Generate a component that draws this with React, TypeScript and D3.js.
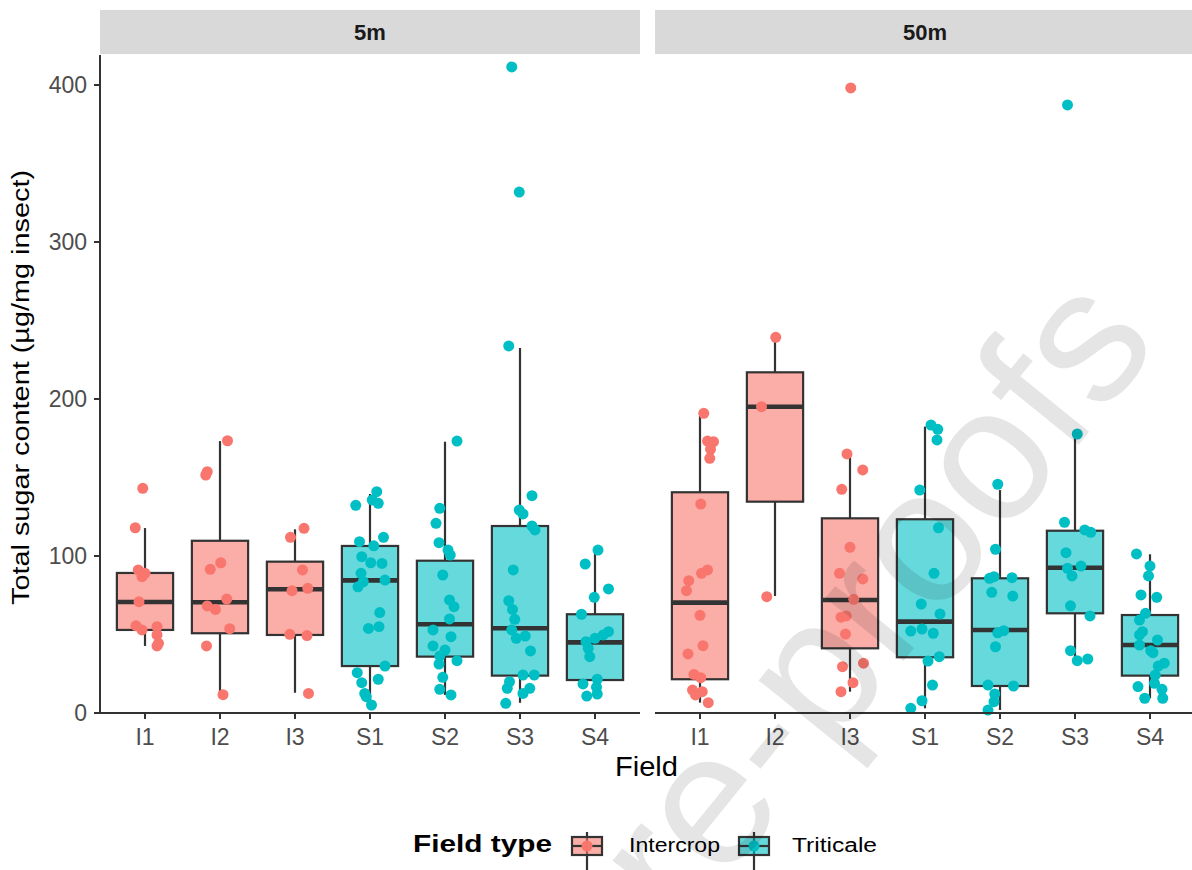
import React from "react";
import * as d3 from "d3";

const fields = ["I1", "I2", "I3", "S1", "S2", "S3", "S4"];
const facets = ["5m", "50m"];
const fieldTypes = ["Intercrop", "Triticale"];
const typeColors = ["#F8766D", "#00BFC4"];
const yTicks = [0, 100, 200, 300, 400];

// [lower whisker, Q1, median, Q3, upper whisker] per field
const stats5m = [
  [42.7, 52.9, 70.7, 89.2, 117.8],
  [11.5, 50.8, 70.5, 109.7, 173.2],
  [12.9, 49.7, 78.8, 96.4, 117.0],
  [5.1, 29.9, 84.5, 106.4, 139.5],
  [11.5, 35.9, 56.5, 97.0, 172.8],
  [6.5, 23.8, 54.0, 119.1, 232.5],
  [10.4, 21.0, 45.0, 62.9, 103.8],
];
const stats50m = [
  [6.6, 21.5, 70.3, 140.6, 189.2],
  [74.5, 134.6, 195.1, 217.0, 239.0],
  [13.6, 41.2, 72.0, 124.0, 164.3],
  [3.0, 35.5, 58.2, 123.4, 182.4],
  [1.9, 17.2, 52.9, 85.8, 142.0],
  [33.8, 63.5, 92.5, 116.1, 177.7],
  [9.4, 23.8, 43.3, 62.4, 101.1],
];

// [field, value, jitter (category units)]
const points5m: [string, number, number][] = [
  ["I1", 143.1, -0.03], ["I1", 118.0, -0.13], ["I1", 91.1, -0.09], ["I1", 89.0, 0.0], ["I1", 86.8, -0.04], ["I1", 70.9, -0.08],
  ["I1", 55.6, -0.12], ["I1", 52.9, -0.04], ["I1", 55.0, 0.16], ["I1", 49.7, 0.16], ["I1", 44.4, 0.18], ["I1", 42.7, 0.16],
  ["I2", 173.4, 0.1], ["I2", 153.7, -0.17], ["I2", 151.6, -0.19], ["I2", 95.7, 0.01], ["I2", 91.5, -0.13], ["I2", 72.6, 0.09],
  ["I2", 68.2, -0.17], ["I2", 66.0, -0.06], ["I2", 53.7, 0.13], ["I2", 42.7, -0.18], ["I2", 11.7, 0.04],
  ["I3", 117.6, 0.12], ["I3", 111.9, -0.06], ["I3", 91.1, 0.1], ["I3", 77.9, -0.04], ["I3", 79.4, 0.17], ["I3", 50.1, -0.07],
  ["I3", 49.3, 0.16], ["I3", 12.5, 0.18],
  ["S1", 132.3, -0.19], ["S1", 141.0, 0.09], ["S1", 135.7, 0.03], ["S1", 133.6, 0.11], ["S1", 109.1, -0.14], ["S1", 111.9, 0.18],
  ["S1", 106.5, 0.05], ["S1", 99.6, -0.11], ["S1", 95.7, 0.01], ["S1", 95.3, 0.16], ["S1", 89.0, -0.12], ["S1", 83.6, -0.09],
  ["S1", 80.4, -0.16], ["S1", 84.7, 0.2], ["S1", 64.0, 0.13], ["S1", 53.9, -0.02], ["S1", 55.0, 0.12], ["S1", 29.9, 0.2],
  ["S1", 25.7, -0.17], ["S1", 19.3, -0.11], ["S1", 21.5, 0.11], ["S1", 12.5, -0.07], ["S1", 10.4, -0.05], ["S1", 5.1, 0.02],
  ["S2", 173.2, 0.16], ["S2", 130.4, -0.07], ["S2", 120.8, -0.12], ["S2", 108.5, -0.08], ["S2", 103.8, 0.04], ["S2", 100.6, 0.07],
  ["S2", 87.9, -0.03], ["S2", 72.0, 0.06], ["S2", 67.7, 0.12], ["S2", 59.9, 0.06], ["S2", 52.9, -0.16], ["S2", 48.6, 0.08],
  ["S2", 42.7, -0.16], ["S2", 40.1, 0.0], ["S2", 36.3, -0.07], ["S2", 33.3, 0.16], ["S2", 31.2, -0.08], ["S2", 22.7, -0.03],
  ["S2", 15.1, -0.07], ["S2", 11.5, 0.08],
  ["S3", 411.5, -0.11], ["S3", 331.8, -0.01], ["S3", 233.8, -0.15], ["S3", 138.4, 0.16], ["S3", 129.3, -0.01], ["S3", 126.8, 0.04],
  ["S3", 119.1, 0.16], ["S3", 116.6, 0.2], ["S3", 91.1, -0.09], ["S3", 71.5, -0.15], ["S3", 66.0, -0.1], ["S3", 59.7, -0.07],
  ["S3", 52.9, -0.11], ["S3", 47.6, -0.05], ["S3", 49.0, 0.07], ["S3", 39.5, 0.14], ["S3", 24.2, 0.04], ["S3", 24.2, 0.19],
  ["S3", 19.9, -0.14], ["S3", 15.7, -0.17], ["S3", 15.7, 0.13], ["S3", 12.5, 0.04], ["S3", 6.2, -0.19],
  ["S4", 103.8, 0.04], ["S4", 94.9, -0.13], ["S4", 79.0, 0.18], ["S4", 73.7, -0.01], ["S4", 62.9, -0.18], ["S4", 51.8, 0.18],
  ["S4", 49.7, 0.11], ["S4", 47.6, 0.0], ["S4", 45.4, -0.12], ["S4", 41.2, -0.09], ["S4", 35.9, -0.07], ["S4", 21.5, 0.03],
  ["S4", 18.5, -0.16], ["S4", 16.4, 0.02], ["S4", 12.1, 0.03], ["S4", 10.8, -0.11],
];

const points50m: [string, number, number][] = [
  ["I1", 190.9, 0.05], ["I1", 173.2, 0.1], ["I1", 172.8, 0.18], ["I1", 168.0, 0.14], ["I1", 162.2, 0.13], ["I1", 133.1, 0.01],
  ["I1", 91.1, 0.1], ["I1", 89.0, 0.02], ["I1", 84.3, -0.15], ["I1", 77.9, -0.18], ["I1", 62.2, 0.0], ["I1", 42.9, 0.04],
  ["I1", 37.6, -0.16], ["I1", 24.6, -0.08], ["I1", 22.5, 0.01], ["I1", 14.6, -0.1], ["I1", 13.6, 0.03], ["I1", 11.5, -0.06],
  ["I1", 6.6, 0.11],
  ["I2", 239.3, 0.01], ["I2", 195.1, -0.18], ["I2", 74.1, -0.11],
  ["I3", 398.1, 0.01], ["I3", 165.0, -0.04], ["I3", 154.8, 0.17], ["I3", 142.5, -0.11], ["I3", 105.5, 0.0], ["I3", 89.0, -0.14],
  ["I3", 85.4, 0.17], ["I3", 72.4, 0.05], ["I3", 61.0, -0.12], ["I3", 61.8, -0.05], ["I3", 50.3, -0.06], ["I3", 29.5, -0.1],
  ["I3", 31.7, 0.18], ["I3", 19.3, 0.04], ["I3", 13.6, -0.12],
  ["S1", 183.4, 0.08], ["S1", 180.7, 0.17], ["S1", 173.9, 0.16], ["S1", 142.0, -0.07], ["S1", 118.0, 0.18], ["S1", 89.0, 0.12],
  ["S1", 69.4, -0.05], ["S1", 63.1, 0.2], ["S1", 52.2, -0.19], ["S1", 53.5, -0.04], ["S1", 50.8, 0.11], ["S1", 33.1, 0.04],
  ["S1", 35.9, 0.19], ["S1", 17.8, 0.1], ["S1", 7.8, -0.04], ["S1", 3.0, -0.19],
  ["S2", 145.7, -0.03], ["S2", 104.3, -0.06], ["S2", 85.8, -0.14], ["S2", 86.8, -0.08], ["S2", 86.2, 0.16], ["S2", 76.9, -0.11],
  ["S2", 74.5, 0.17], ["S2", 51.1, -0.03], ["S2", 52.4, 0.05], ["S2", 42.2, -0.06], ["S2", 17.8, -0.16], ["S2", 17.2, 0.18],
  ["S2", 12.1, -0.07], ["S2", 7.2, -0.08], ["S2", 1.9, -0.16],
  ["S3", 387.3, -0.1], ["S3", 177.7, 0.03], ["S3", 121.5, -0.14], ["S3", 116.6, 0.13], ["S3", 115.1, 0.21], ["S3", 102.1, -0.12],
  ["S3", 92.2, -0.1], ["S3", 93.6, 0.08], ["S3", 87.3, -0.04], ["S3", 68.3, -0.06], ["S3", 61.8, 0.2], ["S3", 39.7, -0.06],
  ["S3", 33.3, 0.03], ["S3", 34.4, 0.17],
  ["S4", 101.3, -0.18], ["S4", 93.6, 0.0], ["S4", 87.3, -0.02], ["S4", 75.2, -0.12], ["S4", 73.7, 0.09], ["S4", 63.5, -0.06],
  ["S4", 59.2, -0.14], ["S4", 51.8, -0.1], ["S4", 49.7, -0.14], ["S4", 46.5, 0.1], ["S4", 43.3, -0.14], ["S4", 39.7, 0.01],
  ["S4", 38.4, 0.04], ["S4", 29.9, 0.11], ["S4", 31.7, 0.19], ["S4", 24.2, 0.07], ["S4", 18.9, 0.06], ["S4", 16.8, -0.16],
  ["S4", 15.1, 0.16], ["S4", 9.4, -0.07], ["S4", 9.4, 0.17],
];

const FONT = "'Liberation Sans', Arial, sans-serif";
const W = 1192;
const H = 870;
const TOP = 55;
const BOTTOM = 713;
const panelX = [
  [100, 640],
  [655, 1195],
];
const LINE = "#333333";

const typeOf = (f: string) => (f.startsWith("I") ? 0 : 1);
const fillOf = (f: string) => {
  const c = d3.color(typeColors[typeOf(f)])!;
  c.opacity = 0.6;
  return c.formatRgb();
};

export default function App() {
  const y = d3.scaleLinear().domain([0, 400]).range([BOTTOM, 85]);
  const allStats = [stats5m, stats50m];
  const allPoints = [points5m, points50m];

  return (
    <svg
      width={W}
      height={H}
      style={{ position: "absolute", left: 0, top: 0, background: "#fff" }}
      fontFamily={FONT}
    >
      <rect x={0} y={0} width={W} height={H} fill="#fff" />
      {facets.map((facet, pi) => {
        const [x0, x1] = panelX[pi];
        const x = d3.scaleLinear().domain([0.4, fields.length + 0.6]).range([x0, x1]);
        const bw = 0.75;
        return (
          <g key={facet}>
            <rect x={x0} y={10} width={x1 - x0} height={44} fill="#D9D9D9" />
            <text x={(x0 + x1) / 2} y={40} textAnchor="middle" fontSize={22} fontWeight="bold" fill="#1A1A1A">
              {facet}
            </text>
            {fields.map((f, i) => {
              const [lo, q1, med, q3, hi] = allStats[pi][i];
              const cx = x(i + 1);
              const bx0 = x(i + 1 - bw / 2);
              const bx1 = x(i + 1 + bw / 2);
              return (
                <g key={f}>
                  <line x1={cx} x2={cx} y1={y(hi)} y2={y(q3)} stroke={LINE} strokeWidth={2.2} />
                  <line x1={cx} x2={cx} y1={y(q1)} y2={y(lo)} stroke={LINE} strokeWidth={2.2} />
                  <rect
                    x={bx0}
                    y={y(q3)}
                    width={bx1 - bx0}
                    height={y(q1) - y(q3)}
                    fill={fillOf(f)}
                    stroke={LINE}
                    strokeWidth={2.2}
                  />
                  <line x1={bx0} x2={bx1} y1={y(med)} y2={y(med)} stroke={LINE} strokeWidth={4.6} />
                </g>
              );
            })}
            {allPoints[pi].map(([f, v, j], k) => (
              <circle
                key={k}
                cx={x(fields.indexOf(f) + 1 + j)}
                cy={y(v)}
                r={5.5}
                fill={typeColors[typeOf(f)]}
              />
            ))}
            <line x1={x0} x2={x1} y1={BOTTOM} y2={BOTTOM} stroke={LINE} strokeWidth={2} />
            {fields.map((f, i) => (
              <g key={f}>
                <line x1={x(i + 1)} x2={x(i + 1)} y1={BOTTOM} y2={BOTTOM + 6} stroke={LINE} strokeWidth={2} />
                <text x={x(i + 1)} y={745} textAnchor="middle" fontSize={23} fill="#4D4D4D">
                  {f}
                </text>
              </g>
            ))}
            {pi === 0 && (
              <g>
                <line x1={x0} x2={x0} y1={TOP} y2={BOTTOM} stroke={LINE} strokeWidth={2} />
                {yTicks.map((t) => (
                  <g key={t}>
                    <line x1={x0 - 6} x2={x0} y1={y(t)} y2={y(t)} stroke={LINE} strokeWidth={2} />
                    <text x={87} y={y(t) + 8} textAnchor="end" fontSize={23} fill="#4D4D4D">
                      {t}
                    </text>
                  </g>
                ))}
              </g>
            )}
          </g>
        );
      })}

      <text x={646.5} y={776} textAnchor="middle" fontSize={27} textLength={63} lengthAdjust="spacingAndGlyphs" fill="#000">
        Field
      </text>
      <text
        transform="translate(29,387.5) rotate(-90)"
        textAnchor="middle"
        fontSize={23}
        textLength={435}
        lengthAdjust="spacingAndGlyphs"
        fill="#000"
      >
        Total sugar content (µg/mg insect)
      </text>

      <text x={413} y={852} fontSize={24} fontWeight="bold" textLength={139} lengthAdjust="spacingAndGlyphs" fill="#000">
        Field type
      </text>
      {fieldTypes.map((t, i) => {
        const kx = [587, 754][i];
        const f = i === 0 ? "I1" : "S1";
        return (
          <g key={t}>
            <line x1={kx} x2={kx} y1={832} y2={870} stroke={LINE} strokeWidth={2.2} />
            <rect x={kx - 15} y={837} width={30} height={18} fill={fillOf(f)} stroke={LINE} strokeWidth={2.2} />
            <line x1={kx - 15} x2={kx + 15} y1={846} y2={846} stroke={LINE} strokeWidth={2.2} />
            <circle cx={kx} cy={846} r={5.5} fill={typeColors[i]} />
            <text x={[629, 792][i]} y={852} fontSize={20} textLength={[91, 85][i]} lengthAdjust="spacingAndGlyphs" fill="#000">
              {t}
            </text>
          </g>
        );
      })}

      <text
        transform="translate(1161,343) rotate(-51)"
        textAnchor="end"
        fontSize={190}
        fill="#000"
        fillOpacity={0.1}
      >
        Journal Pre-proofs
      </text>
    </svg>
  );
}
